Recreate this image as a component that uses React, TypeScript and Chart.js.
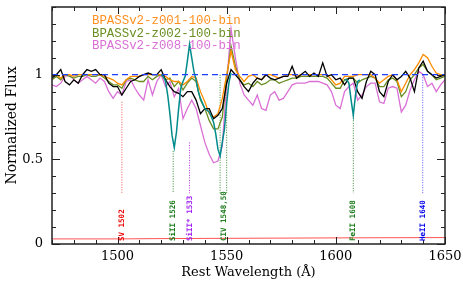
import React, { useEffect, useRef } from "react";
import { Chart, registerables } from "chart.js";

Chart.register(...registerables);

// ---------- data ----------
const wave = [
  1470, 1472, 1474, 1476, 1478, 1480, 1482, 1484, 1486, 1488,
  1490, 1492, 1494, 1496, 1498, 1500, 1502, 1504, 1506, 1508,
  1510, 1512, 1514, 1516, 1518, 1520, 1522, 1524, 1526, 1528,
  1530, 1532, 1534, 1536, 1538, 1540, 1542, 1544, 1546, 1548,
  1550, 1552, 1554, 1556, 1558, 1560, 1562, 1564, 1566, 1568,
  1570, 1572, 1574, 1576, 1578, 1580, 1582, 1584, 1586, 1588,
  1590, 1592, 1594, 1596, 1598, 1600, 1602, 1604, 1606, 1608,
  1610, 1612, 1614, 1616, 1618, 1620, 1622, 1624, 1626, 1628,
  1630, 1632, 1634, 1636, 1638, 1640, 1642, 1644, 1646, 1648,
  1650,
];

const observed = [
  0.98, 1.0, 1.03, 0.96, 0.94, 0.97, 0.95, 1.0, 1.03, 1.02,
  1.03, 1.0, 1.0, 0.95, 0.93, 0.93, 0.88, 0.92, 0.96, 0.97,
  0.99, 1.0, 1.01, 1.0, 1.0, 1.03, 0.97, 0.93, 0.9, 0.89,
  0.87, 0.9, 0.9, 0.85, 0.77, 0.8, 0.8, 0.74, 0.76, 0.8,
  0.95, 1.03, 1.0, 0.97, 0.93, 0.9, 0.95, 0.98, 0.97, 1.0,
  0.98, 0.97, 0.98, 0.99, 0.99, 1.05, 0.98, 1.0, 1.02, 0.99,
  1.01, 0.99, 1.07, 0.99, 1.0, 0.97, 0.98, 0.94, 0.98, 0.98,
  0.9, 0.86, 0.96, 1.02, 1.0, 0.9, 0.87, 0.96, 1.0, 0.97,
  0.99, 1.02, 0.98, 0.9, 1.04, 1.08, 1.02, 1.0, 0.98, 0.99,
  1.0,
];

const z001 = [
  0.99, 1.0, 0.98, 1.0, 1.0, 0.99, 1.0, 1.0, 1.0, 1.0,
  1.0, 1.0, 0.99, 0.98, 0.97, 0.95, 0.94, 0.97, 0.99, 0.99,
  0.99, 1.0, 1.0, 1.0, 1.0, 1.0, 0.99, 0.97, 0.96, 0.96,
  0.94, 0.96, 0.99, 0.98, 0.9, 0.84, 0.77, 0.75, 0.77, 0.86,
  1.0, 1.14, 1.03, 0.99, 0.96, 0.99, 1.0, 0.98, 0.97, 1.0,
  1.0, 0.99, 0.98, 0.99, 1.0, 1.0, 0.99, 1.0, 1.0, 1.0,
  1.0, 1.0, 1.0, 1.0, 0.97, 0.94, 0.95, 0.99, 0.99, 0.99,
  1.0, 1.0, 1.0, 1.0, 0.98, 0.95, 0.97, 0.99, 1.0, 0.97,
  0.9, 0.95, 1.0, 1.03, 1.07, 1.12, 1.1, 1.05, 1.01, 1.0,
  1.0,
];

const z002 = [
  0.97, 0.99, 0.97, 1.0, 0.99, 0.98, 0.99, 0.99, 1.0, 0.99,
  0.99, 1.0, 0.98, 0.96, 0.94, 0.94, 0.92, 0.97, 0.98, 0.97,
  0.96, 0.96, 0.99, 0.97, 0.99, 1.0, 0.97, 0.98, 0.93, 0.96,
  0.91, 0.95, 0.98, 0.96, 0.85, 0.8, 0.73, 0.68, 0.68, 0.75,
  0.98, 1.17, 1.05, 0.97, 0.94, 0.95, 0.93, 0.96, 0.94, 0.95,
  0.97, 0.97, 0.95, 0.96, 0.97, 0.98, 0.98, 0.99, 0.99, 0.99,
  0.99, 0.99, 0.99, 0.98, 0.95, 0.92, 0.92, 0.97, 0.98, 0.98,
  0.95, 0.97, 0.98, 0.99, 0.98, 0.93, 0.93, 0.97, 0.98, 0.96,
  0.87, 0.9, 0.97, 1.0, 1.04, 1.06, 1.02, 1.0, 0.97, 0.98,
  0.99,
];

const z008 = [
  0.94, 0.93, 0.95, 0.99, 1.0, 0.97, 0.95, 0.97, 0.99, 0.97,
  0.95, 0.98, 0.96, 0.9, 0.86, 0.9, 0.88, 0.96, 0.97, 0.92,
  0.88, 0.85, 0.97, 0.88, 0.96, 1.0, 0.93, 0.96, 0.87, 0.92,
  0.74, 0.8, 0.85, 0.8, 0.7, 0.6, 0.53, 0.48, 0.49, 0.58,
  0.95, 1.27, 1.1, 0.95, 0.88, 0.85, 0.82, 0.88, 0.8, 0.79,
  0.88, 0.9, 0.85, 0.86, 0.9, 0.94, 0.95, 0.95, 0.95, 0.96,
  0.96, 0.96, 0.95, 0.94, 0.9, 0.82, 0.8, 0.9, 0.93, 0.95,
  0.85, 0.88, 0.93, 0.95, 0.95, 0.84, 0.83, 0.92, 0.93, 0.92,
  0.78, 0.82, 0.91, 0.97, 1.02, 1.0, 0.93, 0.95, 0.9, 0.94,
  0.97,
];

// teal spectrum pieces (around SiII/CIV and FeII)
const tealWaveA = [
  1520, 1521, 1522, 1523, 1524, 1525, 1526, 1527, 1528, 1529,
  1530, 1531, 1532, 1533, 1534, 1535, 1536, 1537, 1538, 1539,
  1540, 1541, 1542, 1543, 1544, 1545, 1546, 1547, 1548, 1549,
  1550, 1551, 1552,
];
const tealFluxA = [
  1.0, 0.99, 0.96, 0.88, 0.77, 0.64, 0.57, 0.66, 0.8, 0.92,
  0.96, 0.99, 1.08, 1.18, 1.1, 1.02, 0.97, 0.9, 0.86, 0.83,
  0.8, 0.79, 0.78, 0.75, 0.72, 0.65, 0.56, 0.52, 0.6, 0.68,
  0.83, 0.95, 1.01,
];
const tealWaveB = [1604, 1605, 1606, 1607, 1608, 1609, 1610, 1611];
const tealFluxB = [0.97, 0.97, 0.95, 0.85, 0.76, 0.88, 0.96, 0.97];

const errWave = [1470, 1500, 1520, 1540, 1560, 1580, 1600, 1620, 1650];
const errFlux = [0.03, 0.03, 0.032, 0.033, 0.034, 0.035, 0.036, 0.037, 0.038];

const contWave = [1470, 1650];
const contFlux = [1, 1];

const lineWave = [1502, 1525.5, 1533, 1547, 1550, 1608, 1639.8];
const lineTop = [0.84, 0.55, 0.6, 1.0, 1.0, 0.76, 1.0];
const lineBottom = [0.3, 0.3, 0.3, 0.3, 0.3, 0.3, 0.3];
const lineColor = ["#ff5555", "#2e8b2e", "#b030e0", "#2e8b2e", "#2e8b2e", "#2e8b2e", "#5555ff"];

const labelText = ["SV 1502", "SiII 1526", "SiII* 1533", "CIV 1548,50", "FeII 1608", "HeII 1640"];
const labelWave = [1502, 1525.5, 1533, 1549, 1608, 1639.8];
const labelColor = ["#ee0000", "#1a7a1a", "#a020f0", "#1a7a1a", "#1a7a1a", "#0000ee"];

const legendText = ["BPASSv2-z001-100-bin", "BPASSv2-z002-100-bin", "BPASSv2-z008-100-bin"];
const legendColor = ["#ff9020", "#6b8e23", "#da70d6"];

// ---------- helpers ----------
const pts = (xs: number[], ys: (number | null)[]) => xs.map((x, i) => ({ x, y: ys[i] }));
const isMajor = (v: number, step: number) => Math.abs(v / step - Math.round(v / step)) < 1e-6;

const decor = {
  id: "decor",
  afterDatasetsDraw(chart: any) {
    const { ctx, chartArea: a } = chart;
    const xs = chart.scales.x;
    const ys = chart.scales.y;
    ctx.save();
    // frame
    ctx.strokeStyle = "#222";
    ctx.lineWidth = 1.5;
    ctx.strokeRect(a.left, a.top, a.right - a.left, a.bottom - a.top);
    // ticks (inside)
    ctx.lineWidth = 1;
    ctx.beginPath();
    xs.ticks.forEach((t: any) => {
      const px = Math.round(xs.getPixelForValue(t.value)) + 0.5;
      const len = isMajor(t.value, 50) ? 7 : 4;
      ctx.moveTo(px, a.bottom);
      ctx.lineTo(px, a.bottom - len);
      ctx.moveTo(px, a.top);
      ctx.lineTo(px, a.top + len);
    });
    ys.ticks.forEach((t: any) => {
      const py = Math.round(ys.getPixelForValue(t.value)) + 0.5;
      const len = isMajor(t.value, 0.5) ? 8 : 4;
      ctx.moveTo(a.left, py);
      ctx.lineTo(a.left + len, py);
      ctx.moveTo(a.right, py);
      ctx.lineTo(a.right - len, py);
    });
    ctx.stroke();

    // line labels (rotated)
    ctx.font = "bold 7.5px 'DejaVu Sans Mono'";
    ctx.textAlign = "left";
    ctx.textBaseline = "middle";
    labelText.forEach((txt, i) => {
      const px = xs.getPixelForValue(labelWave[i]);
      const py = ys.getPixelForValue(0.018);
      ctx.save();
      ctx.translate(px, py);
      ctx.rotate(-Math.PI / 2);
      ctx.fillStyle = labelColor[i];
      ctx.fillText(txt, 0, 0);
      ctx.restore();
    });

    // legend text
    ctx.font = "12.4px 'Liberation Mono'";
    ctx.textBaseline = "alphabetic";
    legendText.forEach((txt, i) => {
      ctx.fillStyle = legendColor[i];
      ctx.fillText(txt, a.left + 40, a.top + 17 + i * 12.5);
    });
    ctx.restore();
  },
};

export default function App() {
  const ref = useRef<HTMLCanvasElement>(null);

  useEffect(() => {
    const canvas = ref.current;
    if (!canvas) return;

    const base = { pointRadius: 0, tension: 0, fill: false, spanGaps: false };
    const markers = lineWave.map((w, i) => ({
      ...base,
      data: [
        { x: w, y: lineTop[i] },
        { x: w, y: lineBottom[i] },
      ],
      borderColor: lineColor[i],
      borderWidth: 1,
      borderDash: [1, 1.5],
    }));

    const chart = new Chart(canvas, {
      type: "line",
      data: {
        datasets: [
          { ...base, data: pts(contWave, contFlux), borderColor: "#1f3fff", borderWidth: 1.2, borderDash: [6, 4] },
          { ...base, data: pts(tealWaveA, tealFluxA), borderColor: "#008b8b", borderWidth: 1.5 },
          { ...base, data: pts(tealWaveB, tealFluxB), borderColor: "#008b8b", borderWidth: 1.5 },
          { ...base, data: pts(wave, observed), borderColor: "#000000", borderWidth: 1.3 },
          { ...base, data: pts(wave, z001), borderColor: "#ff8c00", borderWidth: 1.3 },
          { ...base, data: pts(wave, z002), borderColor: "#6b8e23", borderWidth: 1.3 },
          { ...base, data: pts(wave, z008), borderColor: "#da70d6", borderWidth: 1.3 },
          { ...base, data: pts(errWave, errFlux), borderColor: "rgba(255,40,40,0.8)", borderWidth: 1 },
          ...markers,
        ] as any,
      },
      options: {
        responsive: false,
        animation: false,
        events: [],
        layout: { padding: { left: 0, right: 18, top: 7, bottom: 0 } },
        plugins: { legend: { display: false }, tooltip: { enabled: false } },
        scales: {
          x: {
            type: "linear",
            min: 1470,
            max: 1650,
            grid: { display: false, drawTicks: false },
            border: { display: false },
            ticks: {
              stepSize: 10,
              autoSkip: false,
              maxRotation: 0,
              minRotation: 0,
              padding: 5,
              color: "#000",
              font: { family: "DejaVu Serif", size: 13 },
              callback: (v: any) => (isMajor(Number(v), 50) ? String(v) : ""),
            },
            title: {
              display: true,
              text: "Rest Wavelength (Å)",
              color: "#000",
              font: { family: "DejaVu Serif", size: 13 },
              padding: { top: 0, bottom: 4 },
            },
            afterFit: (s: any) => {
              s.height = 40;
              s.paddingLeft = 0;
              s.paddingRight = 0;
            },
          },
          y: {
            min: 0,
            max: 1.4,
            grid: { display: false, drawTicks: false },
            border: { display: false },
            ticks: {
              stepSize: 0.1,
              autoSkip: false,
              padding: 9,
              color: "#000",
              font: { family: "DejaVu Serif", size: 13 },
              callback: (v: any) => {
                const n = Number(v);
                return isMajor(n, 0.5) ? String(Math.round(n * 2) / 2) : "";
              },
            },
            title: {
              display: true,
              text: "Normalized Flux",
              color: "#000",
              font: { family: "DejaVu Serif", size: 14 },
              padding: { top: 4, bottom: 0 },
            },
            afterFit: (s: any) => {
              s.width = 52;
              s.paddingTop = 0;
              s.paddingBottom = 0;
            },
          },
        },
      } as any,
      plugins: [decor],
    });

    return () => chart.destroy();
  }, []);

  return (
    <div style={{ position: "fixed", left: 0, top: 0, width: 463, height: 284, background: "#fff" }}>
      <canvas ref={ref} width={463} height={284} style={{ display: "block" }} />
    </div>
  );
}
